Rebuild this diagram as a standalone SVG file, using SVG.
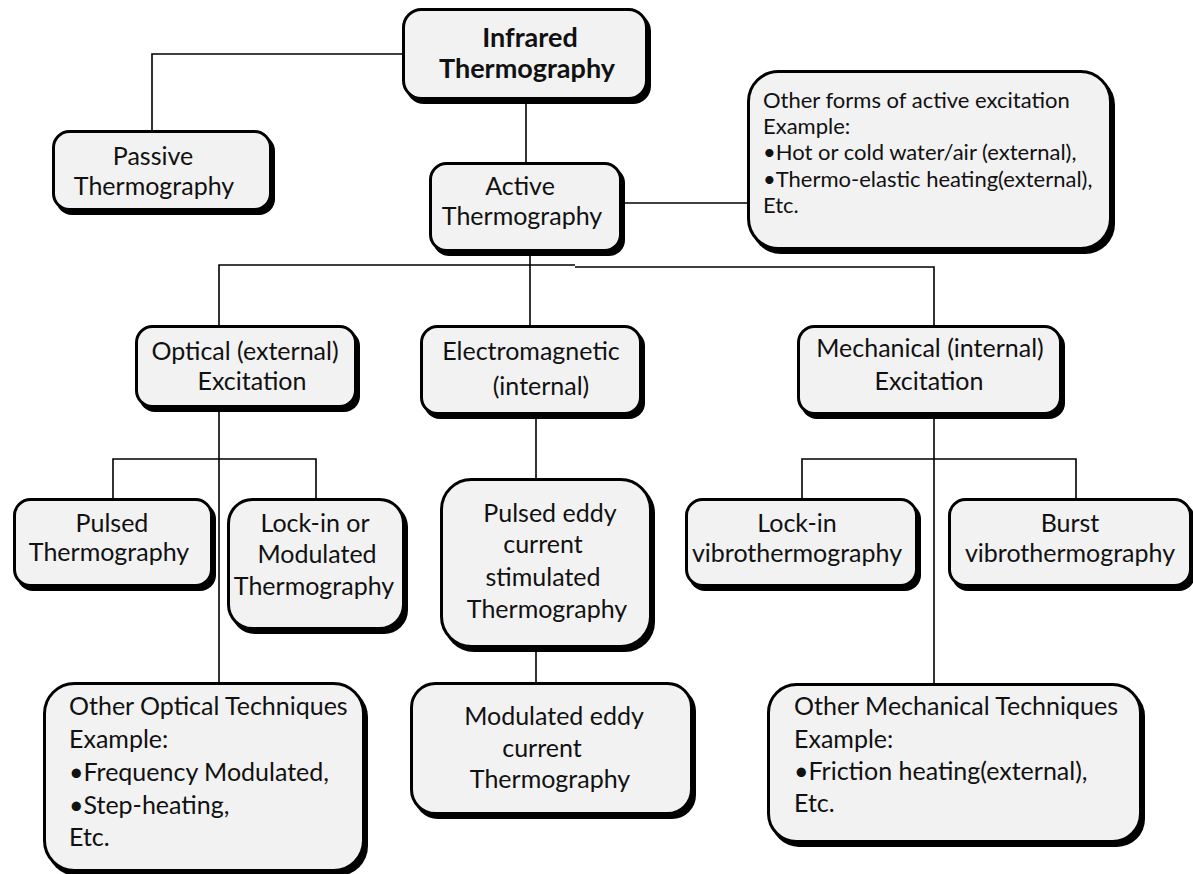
<svg xmlns="http://www.w3.org/2000/svg" width="1193" height="874" viewBox="0 0 1193 874">
  <style>
    .sh { fill: #000; }
    .bx { fill: #f2f2f2; stroke: #000; stroke-width: 3; }
    .t { font-family: Lato, "Liberation Sans", sans-serif; font-size: 25px; fill: #111; }
    .c { text-anchor: middle; }
    .b { font-weight: bold; font-size: 27px; }
    .s { font-size: 22px; }
    .conn { stroke: #000; stroke-width: 1.6; fill: none; }
  </style>
  <rect width="1193" height="874" fill="#fff"/>

  <!-- connectors -->
  <g id="connectors" class="conn">
    <path d="M402 54 H152 V131"/>
    <path d="M526 100 V163"/>
    <path d="M622 203 H748"/>
    <path d="M530 252 V326"/>
    <path d="M219 326 V265 H575"/>
    <path d="M575 267 H934 V326"/>
    <path d="M219 408 V683"/>
    <path d="M113 499 V459 H316 V499"/>
    <path d="M536 415 V479"/>
    <path d="M536 648 V683"/>
    <path d="M934 415 V684"/>
    <path d="M802 499 V459 H1076 V499"/>
  </g>

  <!-- root -->
  <g id="infrared">
    <rect class="sh" x="406" y="13" width="245" height="91" rx="18"/>
    <rect class="bx" x="403.5" y="9.5" width="243" height="89" rx="18"/>
    <text class="t c b" x="530" y="47">Infrared</text>
    <text class="t c b" x="527" y="78">Thermography</text>
  </g>

  <g id="passive">
    <rect class="sh" x="56" y="135" width="219" height="80" rx="16"/>
    <rect class="bx" x="53.5" y="131.5" width="217" height="78" rx="16"/>
    <text class="t c" x="153" y="165">Passive</text>
    <text class="t c" x="154" y="195">Thermography</text>
  </g>

  <g id="active">
    <rect class="sh" x="433" y="167" width="192" height="89" rx="16"/>
    <rect class="bx" x="430.5" y="163.5" width="190" height="87" rx="16"/>
    <text class="t c" x="520" y="195">Active</text>
    <text class="t c" x="522" y="225">Thermography</text>
  </g>

  <g id="other-active">
    <rect class="sh" x="751" y="75" width="364" height="179" rx="30"/>
    <rect class="bx" x="748.5" y="71.5" width="362" height="177" rx="30"/>
    <text class="t s" x="763" y="108">Other forms of active excitation</text>
    <text class="t s" x="763" y="134">Example:</text>
    <text class="t s" x="763" y="160">•Hot or cold water/air (external),</text>
    <text class="t s" x="763" y="187">•Thermo-elastic heating(external),</text>
    <text class="t s" x="763" y="213">Etc.</text>
  </g>

  <!-- excitation families -->
  <g id="optical">
    <rect class="sh" x="139" y="330" width="221" height="82" rx="16"/>
    <rect class="bx" x="136.5" y="326.5" width="219" height="80" rx="16"/>
    <text class="t c" x="245" y="360">Optical (external)</text>
    <text class="t c" x="252" y="390">Excitation</text>
  </g>

  <g id="electromagnetic">
    <rect class="sh" x="424" y="330" width="221" height="89" rx="16"/>
    <rect class="bx" x="421.5" y="326.5" width="219" height="87" rx="16"/>
    <text class="t c" x="531" y="360">Electromagnetic</text>
    <text class="t c" x="541" y="395">(internal)</text>
  </g>

  <g id="mechanical">
    <rect class="sh" x="801" y="330" width="264" height="89" rx="16"/>
    <rect class="bx" x="798.5" y="326.5" width="262" height="87" rx="16"/>
    <text class="t c" x="930" y="357">Mechanical (internal)</text>
    <text class="t c" x="929" y="390">Excitation</text>
  </g>

  <!-- optical techniques -->
  <g id="pulsed">
    <rect class="sh" x="17" y="503" width="199" height="88" rx="16"/>
    <rect class="bx" x="14.5" y="499.5" width="197" height="86" rx="16"/>
    <text class="t c" x="112" y="532">Pulsed</text>
    <text class="t c" x="109" y="561">Thermography</text>
  </g>

  <g id="lockin-modulated">
    <rect class="sh" x="231" y="503" width="177" height="131" rx="24"/>
    <rect class="bx" x="228.5" y="499.5" width="175" height="129" rx="24"/>
    <text class="t c" x="315" y="532">Lock-in or</text>
    <text class="t c" x="317" y="563">Modulated</text>
    <text class="t c" x="314" y="595">Thermography</text>
  </g>

  <g id="other-optical">
    <rect class="sh" x="47" y="687" width="321" height="189" rx="30"/>
    <rect class="bx" x="44.5" y="683.5" width="319" height="187" rx="30"/>
    <text class="t" x="69" y="715">Other Optical Techniques</text>
    <text class="t" x="69" y="748">Example:</text>
    <text class="t" x="69" y="781">•Frequency Modulated,</text>
    <text class="t" x="69" y="814">•Step-heating,</text>
    <text class="t" x="69" y="846">Etc.</text>
  </g>

  <!-- electromagnetic techniques -->
  <g id="pulsed-eddy">
    <rect class="sh" x="444" y="483" width="211" height="169" rx="30"/>
    <rect class="bx" x="441.5" y="479.5" width="209" height="167" rx="30"/>
    <text class="t c" x="550" y="522">Pulsed eddy</text>
    <text class="t c" x="543" y="553">current</text>
    <text class="t c" x="543" y="586">stimulated</text>
    <text class="t c" x="547" y="618">Thermography</text>
  </g>

  <g id="modulated-eddy">
    <rect class="sh" x="414" y="687" width="282" height="132" rx="24"/>
    <rect class="bx" x="411.5" y="683.5" width="280" height="130" rx="24"/>
    <text class="t c" x="554" y="725">Modulated eddy</text>
    <text class="t c" x="542" y="757">current</text>
    <text class="t c" x="550" y="788">Thermography</text>
  </g>

  <!-- mechanical techniques -->
  <g id="lockin-vibro">
    <rect class="sh" x="689" y="503" width="232" height="88" rx="16"/>
    <rect class="bx" x="686.5" y="499.5" width="230" height="86" rx="16"/>
    <text class="t c" x="797" y="532">Lock-in</text>
    <text class="t c" x="797" y="562">vibrothermography</text>
  </g>

  <g id="burst-vibro">
    <rect class="sh" x="952" y="503" width="243" height="88" rx="16"/>
    <rect class="bx" x="949.5" y="499.5" width="241" height="86" rx="16"/>
    <text class="t c" x="1070" y="532">Burst</text>
    <text class="t c" x="1070" y="562">vibrothermography</text>
  </g>

  <g id="other-mechanical">
    <rect class="sh" x="771" y="688" width="374" height="159" rx="28"/>
    <rect class="bx" x="768.5" y="684.5" width="372" height="157" rx="28"/>
    <text class="t" x="794" y="715">Other Mechanical Techniques</text>
    <text class="t" x="794" y="748">Example:</text>
    <text class="t" x="794" y="780">•Friction heating(external),</text>
    <text class="t" x="794" y="812">Etc.</text>
  </g>
</svg>
